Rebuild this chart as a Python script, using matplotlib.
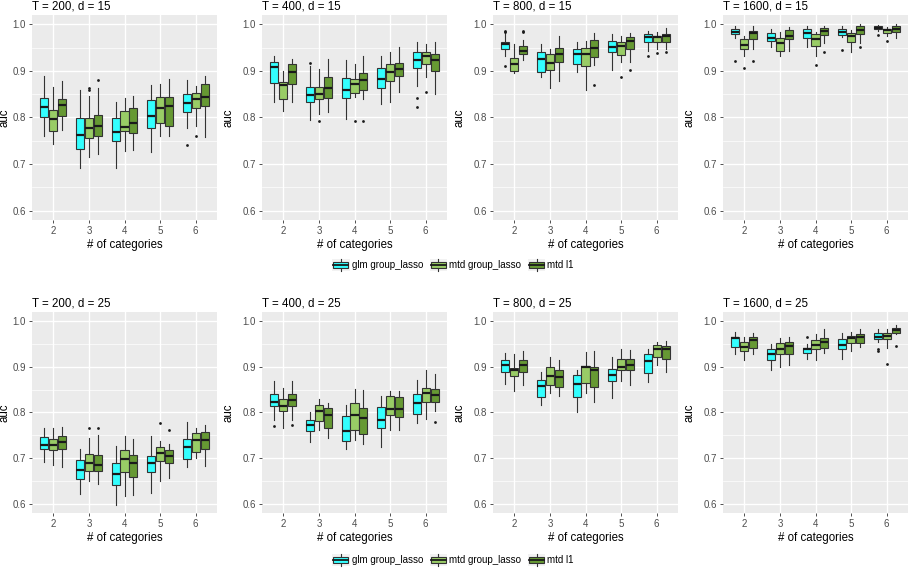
import matplotlib
matplotlib.use("Agg")
import matplotlib.pyplot as plt
from matplotlib.patches import Patch, Rectangle
from matplotlib.lines import Line2D
from matplotlib.legend_handler import HandlerBase

plt.rcParams["font.family"] = ["Liberation Sans", "DejaVu Sans"]

CATEGORIES = [2, 3, 4, 5, 6]
METHODS = ["glm group_lasso", "mtd group_lasso", "mtd l1"]
COLORS = ["#33FFFF", "#99CC66", "#669933"]
TITLES = ["T = 200, d = 15", "T = 400, d = 15", "T = 800, d = 15", "T = 1600, d = 15",
          "T = 200, d = 25", "T = 400, d = 25", "T = 800, d = 25", "T = 1600, d = 25"]

# rows per category 2..6: (whisker low, q1, median, q3, whisker high)
T200_D15_GLM = [(0.761, 0.800, 0.823, 0.841, 0.889), (0.692, 0.732, 0.762, 0.798, 0.859),
                (0.692, 0.750, 0.768, 0.798, 0.834), (0.725, 0.777, 0.803, 0.838, 0.870),
                (0.778, 0.811, 0.832, 0.851, 0.881)]
T200_D15_MGL = [(0.743, 0.772, 0.796, 0.816, 0.865), (0.716, 0.757, 0.777, 0.798, 0.847),
                (0.729, 0.771, 0.780, 0.813, 0.841), (0.761, 0.789, 0.820, 0.843, 0.872),
                (0.782, 0.820, 0.840, 0.853, 0.868)]
T200_D15_L1 = [(0.773, 0.804, 0.826, 0.839, 0.878), (0.722, 0.761, 0.782, 0.805, 0.863),
               (0.730, 0.766, 0.789, 0.820, 0.847), (0.761, 0.782, 0.825, 0.843, 0.883),
               (0.759, 0.825, 0.843, 0.871, 0.890)]
T200_D15_OUT = [(0, 6, 0.742), (1, 3, 0.864), (1, 3, 0.860), (1, 6, 0.760), (2, 3, 0.880)]

T400_D15_GLM = [(0.833, 0.875, 0.908, 0.920, 0.932), (0.795, 0.833, 0.848, 0.865, 0.910),
                (0.797, 0.841, 0.858, 0.884, 0.923), (0.830, 0.863, 0.883, 0.906, 0.931),
                (0.868, 0.906, 0.923, 0.940, 0.963)]
T400_D15_MGL = [(0.815, 0.840, 0.870, 0.877, 0.900), (0.807, 0.840, 0.850, 0.865, 0.904),
                (0.843, 0.852, 0.872, 0.883, 0.914), (0.834, 0.879, 0.898, 0.914, 0.941),
                (0.888, 0.914, 0.931, 0.941, 0.957)]
T400_D15_L1 = [(0.834, 0.872, 0.898, 0.914, 0.926), (0.812, 0.841, 0.863, 0.888, 0.926),
               (0.840, 0.860, 0.880, 0.896, 0.931), (0.855, 0.890, 0.904, 0.916, 0.951),
               (0.850, 0.900, 0.923, 0.936, 0.961)]
T400_D15_OUT = [(0, 3, 0.917), (0, 6, 0.841), (0, 6, 0.823), (1, 3, 0.793), (1, 4, 0.792),
                (1, 6, 0.855), (2, 4, 0.792)]

T800_D15_GLM = [(0.931, 0.948, 0.957, 0.961, 0.981), (0.888, 0.898, 0.926, 0.941, 0.957),
                (0.898, 0.915, 0.936, 0.948, 0.961), (0.902, 0.940, 0.952, 0.965, 0.979),
                (0.943, 0.961, 0.972, 0.979, 0.986)]
T800_D15_MGL = [(0.896, 0.900, 0.914, 0.927, 0.957), (0.863, 0.903, 0.918, 0.936, 0.948),
                (0.859, 0.911, 0.936, 0.950, 0.964), (0.920, 0.934, 0.953, 0.963, 0.974),
                (0.948, 0.961, 0.972, 0.975, 0.983)]
T800_D15_L1 = [(0.923, 0.936, 0.943, 0.954, 0.966), (0.879, 0.920, 0.936, 0.950, 0.975),
               (0.913, 0.929, 0.950, 0.966, 0.982), (0.920, 0.946, 0.964, 0.972, 0.981),
               (0.948, 0.963, 0.974, 0.979, 0.993)]
T800_D15_OUT = [(0, 2, 0.986), (0, 2, 0.983), (0, 2, 0.911), (0, 6, 0.932), (1, 5, 0.886),
                (1, 6, 0.938), (2, 2, 0.985), (2, 2, 0.983), (2, 4, 0.870), (2, 5, 0.901),
                (2, 6, 0.941)]

T1600_D15_GLM = [(0.971, 0.979, 0.984, 0.990, 0.997), (0.952, 0.964, 0.971, 0.981, 0.991),
                 (0.952, 0.970, 0.981, 0.990, 0.997), (0.972, 0.977, 0.983, 0.989, 0.996),
                 (0.986, 0.989, 0.993, 0.996, 0.999)]
T1600_D15_MGL = [(0.932, 0.947, 0.956, 0.968, 0.975), (0.933, 0.943, 0.959, 0.970, 0.984),
                 (0.931, 0.954, 0.968, 0.979, 0.984), (0.940, 0.961, 0.974, 0.981, 0.988),
                 (0.974, 0.982, 0.988, 0.991, 0.995)]
T1600_D15_L1 = [(0.947, 0.969, 0.981, 0.986, 0.997), (0.943, 0.968, 0.976, 0.988, 0.995),
                (0.959, 0.977, 0.986, 0.993, 0.997), (0.959, 0.979, 0.988, 0.996, 1.000),
                (0.970, 0.984, 0.989, 0.996, 1.000)]
T1600_D15_OUT = [(0, 2, 0.922), (0, 5, 0.944), (0, 6, 0.977), (1, 2, 0.906), (1, 4, 0.913),
                 (1, 6, 0.964), (2, 2, 0.921), (2, 4, 0.941), (2, 5, 0.952)]

T200_D25_GLM = [(0.691, 0.721, 0.729, 0.746, 0.765), (0.622, 0.655, 0.675, 0.697, 0.721),
                (0.598, 0.642, 0.666, 0.689, 0.726), (0.623, 0.669, 0.689, 0.704, 0.748),
                (0.680, 0.698, 0.724, 0.743, 0.779)]
T200_D25_MGL = [(0.686, 0.717, 0.729, 0.742, 0.765), (0.651, 0.673, 0.689, 0.710, 0.744),
                (0.618, 0.669, 0.698, 0.718, 0.749), (0.651, 0.693, 0.711, 0.724, 0.737),
                (0.700, 0.713, 0.740, 0.755, 0.766)]
T200_D25_L1 = [(0.680, 0.721, 0.735, 0.748, 0.768), (0.643, 0.671, 0.686, 0.706, 0.750),
               (0.620, 0.658, 0.689, 0.707, 0.743), (0.656, 0.689, 0.705, 0.717, 0.731),
               (0.682, 0.721, 0.740, 0.757, 0.772)]
T200_D25_OUT = [(1, 3, 0.765), (1, 5, 0.778), (2, 3, 0.767), (2, 5, 0.762)]

T400_D25_GLM = [(0.783, 0.814, 0.824, 0.841, 0.870), (0.735, 0.759, 0.773, 0.784, 0.800),
                (0.721, 0.738, 0.759, 0.793, 0.816), (0.724, 0.766, 0.784, 0.811, 0.837),
                (0.776, 0.797, 0.821, 0.841, 0.872)]
T400_D25_MGL = [(0.767, 0.803, 0.814, 0.830, 0.854), (0.761, 0.781, 0.804, 0.816, 0.830),
                (0.740, 0.761, 0.795, 0.821, 0.852), (0.761, 0.794, 0.808, 0.837, 0.848),
                (0.786, 0.824, 0.843, 0.854, 0.892)]
T400_D25_L1 = [(0.783, 0.814, 0.828, 0.841, 0.869), (0.744, 0.766, 0.795, 0.810, 0.821),
               (0.731, 0.753, 0.789, 0.810, 0.850), (0.761, 0.790, 0.808, 0.833, 0.848),
               (0.804, 0.824, 0.839, 0.852, 0.884)]
T400_D25_OUT = [(0, 2, 0.771), (2, 2, 0.772), (2, 6, 0.779)]

T800_D25_GLM = [(0.863, 0.889, 0.903, 0.916, 0.931), (0.817, 0.834, 0.859, 0.872, 0.889),
                (0.800, 0.835, 0.863, 0.883, 0.894), (0.832, 0.868, 0.881, 0.896, 0.921),
                (0.867, 0.887, 0.912, 0.928, 0.939)]
T800_D25_MGL = [(0.846, 0.879, 0.892, 0.898, 0.928), (0.843, 0.860, 0.879, 0.899, 0.921),
                (0.843, 0.865, 0.899, 0.901, 0.932), (0.868, 0.893, 0.900, 0.918, 0.939),
                (0.903, 0.922, 0.940, 0.947, 0.955)]
T800_D25_L1 = [(0.861, 0.889, 0.903, 0.914, 0.934), (0.837, 0.856, 0.877, 0.892, 0.914),
               (0.823, 0.855, 0.892, 0.899, 0.934), (0.861, 0.893, 0.903, 0.918, 0.936),
               (0.889, 0.918, 0.938, 0.945, 0.956)]
T800_D25_OUT = []

T1600_D25_GLM = [(0.929, 0.944, 0.962, 0.966, 0.976), (0.894, 0.914, 0.928, 0.938, 0.949),
                 (0.918, 0.931, 0.938, 0.941, 0.949), (0.918, 0.940, 0.947, 0.960, 0.974),
                 (0.955, 0.960, 0.966, 0.973, 0.983)]
T1600_D25_MGL = [(0.914, 0.934, 0.943, 0.955, 0.965), (0.899, 0.928, 0.939, 0.952, 0.962),
                 (0.916, 0.940, 0.947, 0.958, 0.971), (0.934, 0.952, 0.962, 0.967, 0.976),
                 (0.941, 0.960, 0.967, 0.973, 0.983)]
T1600_D25_L1 = [(0.928, 0.941, 0.958, 0.965, 0.974), (0.905, 0.929, 0.945, 0.954, 0.965),
                (0.931, 0.941, 0.955, 0.962, 0.983), (0.944, 0.952, 0.965, 0.971, 0.982),
                (0.971, 0.974, 0.980, 0.985, 0.991)]
T1600_D25_OUT = [(0, 4, 0.966), (0, 6, 0.940), (0, 6, 0.934), (1, 6, 0.906), (2, 6, 0.945)]

PANELS = [
    (T200_D15_GLM, T200_D15_MGL, T200_D15_L1, T200_D15_OUT),
    (T400_D15_GLM, T400_D15_MGL, T400_D15_L1, T400_D15_OUT),
    (T800_D15_GLM, T800_D15_MGL, T800_D15_L1, T800_D15_OUT),
    (T1600_D15_GLM, T1600_D15_MGL, T1600_D15_L1, T1600_D15_OUT),
    (T200_D25_GLM, T200_D25_MGL, T200_D25_L1, T200_D25_OUT),
    (T400_D25_GLM, T400_D25_MGL, T400_D25_L1, T400_D25_OUT),
    (T800_D25_GLM, T800_D25_MGL, T800_D25_L1, T800_D25_OUT),
    (T1600_D25_GLM, T1600_D25_MGL, T1600_D25_L1, T1600_D25_OUT),
]

W, H = 909, 570
EDGE = "#333333"
MED = "#1a1a1a"


class BoxKey(HandlerBase):
    def create_artists(self, legend, orig_handle, xdescent, ydescent, width, height, fontsize, trans):
        x0, y0 = -xdescent, -ydescent
        cx = x0 + width / 2
        bg = Rectangle((x0, y0), width, height, fc="#F2F2F2", ec="none", transform=trans)
        box = Rectangle((x0 + 0.08 * width, y0 + 0.22 * height), 0.84 * width, 0.56 * height,
                        fc=orig_handle.get_facecolor(), ec=EDGE, lw=0.8, transform=trans)
        wt = Line2D([cx, cx], [y0 + 0.78 * height, y0 + height], color=EDGE, lw=0.8, transform=trans)
        wb = Line2D([cx, cx], [y0, y0 + 0.22 * height], color=EDGE, lw=0.8, transform=trans)
        med = Line2D([x0 + 0.08 * width, x0 + 0.92 * width], [y0 + 0.5 * height] * 2,
                     color=MED, lw=1.3, transform=trans)
        return [bg, wt, wb, box, med]


def draw_panel(ax, series, outliers, title, ylab_x):
    ax.set_facecolor("#EBEBEB")
    offsets = [-0.25, 0.0, 0.25]
    for m, rows in enumerate(series):
        stats = []
        for i, (lo, q1, med, q3, hi) in enumerate(rows):
            fl = [v for (mi, c, v) in outliers if mi == m and c == CATEGORIES[i]]
            stats.append(dict(whislo=lo, q1=q1, med=med, q3=q3, whishi=hi, fliers=fl))
        pos = [i + 1 + offsets[m] for i in range(len(rows))]
        ax.bxp(stats, positions=pos, widths=0.225, patch_artist=True, showcaps=False,
               boxprops=dict(facecolor=COLORS[m], edgecolor=EDGE, linewidth=0.8),
               whiskerprops=dict(color=EDGE, linewidth=0.8),
               medianprops=dict(color=MED, linewidth=1.6),
               flierprops=dict(marker="o", markersize=2, markerfacecolor=MED,
                               markeredgecolor="none"),
               zorder=3)
    ax.set_xlim(0.4, 5.6)
    ax.set_ylim(0.58, 1.02)
    ax.set_xticks(range(1, 6))
    ax.set_xticklabels([str(c) for c in CATEGORIES])
    ax.set_yticks([0.6, 0.7, 0.8, 0.9, 1.0])
    ax.set_yticks([0.65, 0.75, 0.85, 0.95], minor=True)
    ax.grid(True, which="major", color="white", linewidth=1.0, zorder=0)
    ax.grid(True, which="minor", axis="y", color="white", linewidth=0.5, zorder=0)
    ax.set_axisbelow(True)
    for sp in ax.spines.values():
        sp.set_visible(False)
    ax.tick_params(which="major", length=2.5, width=0.6, color=EDGE, labelcolor="#4D4D4D",
                   labelsize=7, pad=2)
    ax.tick_params(which="minor", length=0)
    ax.set_xlabel("# of categories", fontsize=8.3, labelpad=2)
    ax.set_ylabel("auc", fontsize=8.3)
    ax.yaxis.set_label_coords(ylab_x, 0.5)
    ax.set_title(title, loc="left", fontsize=8.3, pad=4)


fig = plt.figure(figsize=(W / 100, H / 100), dpi=100)
lefts = [32, 262, 493, 723]
ylab_xs = [-0.115, -0.15, -0.148, -0.148]
rows_px = [(15, 220), (312, 513)]
for k, (title, panel) in enumerate(zip(TITLES, PANELS)):
    r, c = divmod(k, 4)
    top, bot = rows_px[r]
    ax = fig.add_axes([lefts[c] / W, 1 - bot / H, 185 / W, (bot - top) / H])
    draw_panel(ax, panel[:3], panel[3], title, ylab_xs[c])

handles = [Patch(facecolor=col) for col in COLORS]
for ycen in (265, 560):
    fig.legend(handles, METHODS, loc="center", bbox_to_anchor=(453 / W, 1 - ycen / H),
               ncol=3, frameon=False, fontsize=7, handlelength=1.8, handleheight=1.4,
               handletextpad=0.2, columnspacing=0.7, handler_map={Patch: BoxKey()})

fig.savefig("out.png", dpi=100)
